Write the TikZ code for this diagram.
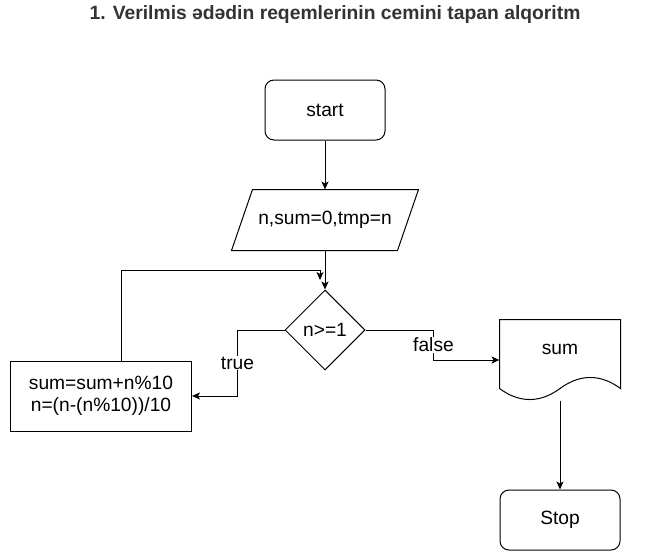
\documentclass[tikz,border=0pt]{standalone}
\usepackage{fontspec}
\setmainfont{Liberation Sans}
\usetikzlibrary{shapes.geometric,arrows.meta}
\definecolor{titlegray}{HTML}{333333}
\begin{document}
\begin{tikzpicture}[x=1pt, y=-1pt, line width=1pt, font=\fontsize{19.2}{22.5}\selectfont]
    % Node styles
    \tikzstyle{terminal}=[draw, rounded corners=9pt, minimum width=120pt, minimum height=60pt, inner sep=0pt]
    \tikzstyle{io box}=[minimum width=186pt, minimum height=60pt, inner sep=0pt]
    \tikzstyle{decision}=[draw, diamond, aspect=1, minimum width=80pt, minimum height=80pt, inner sep=0pt]
    \tikzstyle{process}=[draw, minimum width=181pt, minimum height=70pt, align=center, inner sep=0pt]
    \tikzstyle{output doc}=[minimum width=120pt, minimum height=80pt, inner sep=0pt]
    \tikzstyle{flow}=[-{Stealth[length=8pt,width=7pt,inset=2pt]}]
    \tikzstyle{branch label}=[fill=white, inner sep=1pt]

    \useasboundingbox (0,0) rectangle (671,551);

    % --- Title ---
    \node[font=\fontsize{19.3}{23}\selectfont\bfseries, text=titlegray] (title) at (335,15)
        {1. Verilmis ədədin reqemlerinin cemini tapan alqoritm};

    % --- Main column ---
    \node[terminal] (start) at (325,110) {start};

    % Input (parallelogram drawn on the node's corners)
    \node[io box] (init) at (325,220) {n,sum=0,tmp=n};
    \draw ([xshift=21pt]init.north west) -- (init.north east)
        -- ([xshift=-21pt]init.south east) -- (init.south west) -- cycle;

    \node[decision] (dec) at (325,330) {n>=1};

    % --- Loop body ---
    \node[process] (proc) at (101,396) {sum=sum+n\%10\\n=(n-(n\%10))/10};

    % --- Output and end ---
    \node[output doc] (sum) at (560,360) {\raisebox{6pt}[0pt][0pt]{sum}};
    \draw (sum.north west) -- (sum.north east) -- ([yshift=12pt]sum.south east)
        .. controls ([xshift=-20pt,yshift=26.7pt]sum.south east) and ([xshift=20pt,yshift=26.7pt]sum.south) .. ([yshift=12pt]sum.south)
        .. controls ([xshift=-20pt,yshift=-2.7pt]sum.south) and ([xshift=20pt,yshift=-2.7pt]sum.south west) .. ([yshift=12pt]sum.south west)
        -- cycle;

    \node[terminal] (stop) at (560,520) {Stop};

    % Edges
    \draw[flow] (start) -- (init);
    \draw[flow] (init) -- (dec);
    \draw[flow] (dec.west) -- ++(-47,0) |- node[branch label, pos=0.25] {true} (proc.east);
    \draw[flow] (dec.east) -- ++(68,0) |- node[branch label, pos=0.25] {false} (sum.west);
    \draw[flow] (sum.south) -- (stop.north);

    % Loop back into the condition
    \coordinate (join) at (320,280);
    \draw[flow] ([xshift=20pt]proc.north) |- ([yshift=10pt]join) -- (join);

\end{tikzpicture}
\end{document}
